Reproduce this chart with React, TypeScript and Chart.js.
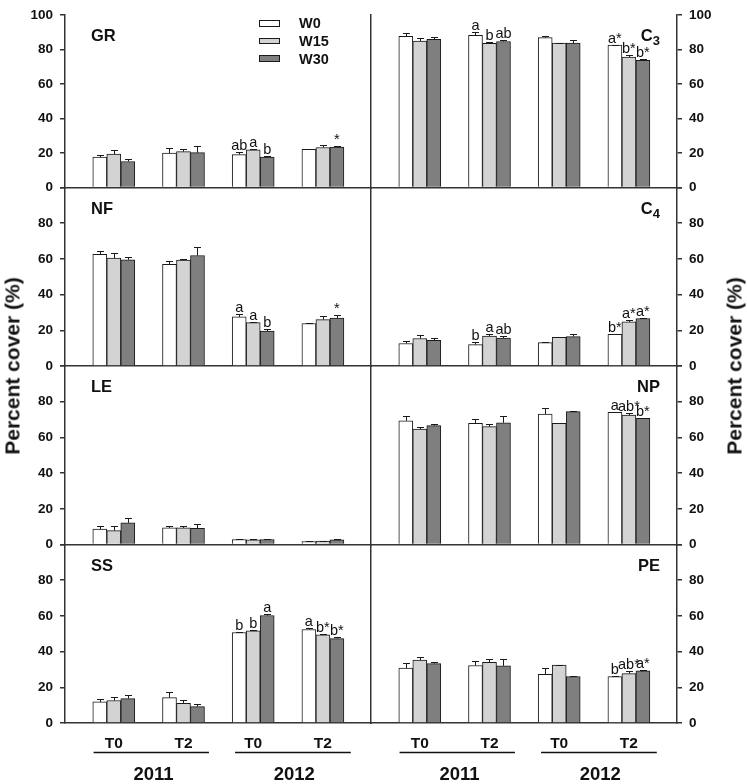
import React, { useEffect, useRef } from 'react';
import { Chart, registerables } from 'chart.js';

Chart.register(...registerables);

// ---------------- data ----------------
const groupLabels = ['T0', 'T2', 'T0', 'T2'];
const yearLabels = ['2011', '2012'];
const seriesNames = ['W0', 'W15', 'W30'];
const seriesColors = ['#ffffff', '#d3d3d3', '#7f7f7f'];

// GR
const grW0 = [17.6, 20.0, 19.1, 22.2];
const grW15 = [19.4, 20.8, 21.9, 23.2];
const grW30 = [15.1, 20.2, 17.6, 23.5];
const grErrW0 = [1.5, 3.2, 1.4, 0.3];
const grErrW15 = [2.5, 1.4, 0.7, 1.5];
const grErrW30 = [1.2, 3.9, 0.7, 0.6];
const grLetW0 = ['', '', 'ab', ''];
const grLetW15 = ['', '', 'a', ''];
const grLetW30 = ['', '', 'b', '*'];

// C3
const c3W0 = [87.7, 88.2, 86.9, 82.6];
const c3W15 = [85.0, 83.6, 83.7, 75.7];
const c3W30 = [86.0, 84.7, 83.7, 73.8];
const c3ErrW0 = [2.0, 1.9, 0.9, 0.3];
const c3ErrW15 = [1.5, 0.7, 0.2, 0.9];
const c3ErrW30 = [1.3, 1.1, 1.7, 0.6];
const c3LetW0 = ['', 'a', '', 'a*'];
const c3LetW15 = ['', 'b', '', 'b*'];
const c3LetW30 = ['', 'ab', '', 'b*'];

// NF
const nfW0 = [62.5, 56.9, 27.5, 23.8];
const nfW15 = [60.4, 59.3, 24.3, 26.0];
const nfW30 = [59.5, 61.9, 19.5, 26.9];
const nfErrW0 = [1.8, 2.0, 1.9, 0.3];
const nfErrW15 = [3.0, 0.9, 0.5, 1.9];
const nfErrW30 = [1.3, 4.5, 1.3, 1.5];
const nfLetW0 = ['', '', 'a', ''];
const nfLetW15 = ['', '', 'a', ''];
const nfLetW30 = ['', '', 'b', '*'];

// C4
const c4W0 = [12.6, 12.0, 13.1, 17.8];
const c4W15 = [15.4, 16.8, 16.1, 24.7];
const c4W30 = [14.4, 15.7, 16.5, 26.6];
const c4ErrW0 = [1.6, 1.5, 0.4, 0.3];
const c4ErrW15 = [2.0, 1.0, 0.2, 0.9];
const c4ErrW30 = [1.5, 1.1, 1.7, 0.5];
const c4LetW0 = ['', 'b', '', 'b*'];
const c4LetW15 = ['', 'a', '', 'a*'];
const c4LetW30 = ['', 'ab', '', 'a*'];

// LE
const leW0 = [8.6, 9.3, 2.8, 1.7];
const leW15 = [7.8, 9.3, 2.6, 1.9];
const leW30 = [12.1, 9.0, 2.8, 2.6];
const leErrW0 = [1.8, 1.1, 0.3, 0.2];
const leErrW15 = [2.6, 1.1, 0.6, 0.3];
const leErrW30 = [2.5, 2.4, 0.4, 0.5];
const leLetW0 = ['', '', '', ''];
const leLetW15 = ['', '', '', ''];
const leLetW30 = ['', '', '', ''];

// NP
const npW0 = [69.3, 67.9, 73.1, 74.0];
const npW15 = [64.7, 66.0, 67.9, 72.5];
const npW30 = [66.6, 68.2, 74.4, 70.7];
const npErrW0 = [2.7, 2.2, 3.2, 0.3];
const npErrW15 = [1.3, 1.5, 0.1, 0.9];
const npErrW30 = [0.7, 3.8, 0.6, 0.3];
const npLetW0 = ['', '', '', 'a'];
const npLetW15 = ['', '', '', 'ab*'];
const npLetW30 = ['', '', '', 'b*'];

// SS
const ssW0 = [11.8, 14.2, 50.7, 52.4];
const ssW15 = [12.6, 11.0, 51.6, 49.4];
const ssW30 = [13.7, 9.2, 60.2, 47.3];
const ssErrW0 = [1.5, 3.2, 0.3, 0.6];
const ssErrW15 = [2.2, 2.1, 0.3, 0.4];
const ssErrW30 = [1.8, 1.5, 0.6, 0.8];
const ssLetW0 = ['', '', 'b', 'a'];
const ssLetW15 = ['', '', 'b', 'b*'];
const ssLetW30 = ['', '', 'a', 'b*'];

// PE
const peW0 = [30.8, 32.2, 27.3, 26.0];
const peW15 = [35.3, 34.0, 32.5, 27.7];
const peW30 = [33.3, 32.0, 26.0, 29.2];
const peErrW0 = [2.7, 2.4, 3.4, 0.3];
const peErrW15 = [1.5, 1.7, 0.2, 1.3];
const peErrW30 = [1.1, 3.9, 0.6, 0.3];
const peLetW0 = ['', '', '', 'b'];
const peLetW15 = ['', '', '', 'ab*'];
const peLetW30 = ['', '', '', 'a*'];

const yTicks = [0, 20, 40, 60, 80, 100];
const groupTicks = [0, 1, 2, 3];

// ---------------- panel table ----------------
type Panel = {
  name: string;
  sub: string;
  row: number;
  col: number;
  values: number[][];
  errors: number[][];
  letters: string[][];
};

const panels: Panel[] = [
  { name: 'GR', sub: '', row: 0, col: 0, values: [grW0, grW15, grW30], errors: [grErrW0, grErrW15, grErrW30], letters: [grLetW0, grLetW15, grLetW30] },
  { name: 'NF', sub: '', row: 1, col: 0, values: [nfW0, nfW15, nfW30], errors: [nfErrW0, nfErrW15, nfErrW30], letters: [nfLetW0, nfLetW15, nfLetW30] },
  { name: 'LE', sub: '', row: 2, col: 0, values: [leW0, leW15, leW30], errors: [leErrW0, leErrW15, leErrW30], letters: [leLetW0, leLetW15, leLetW30] },
  { name: 'SS', sub: '', row: 3, col: 0, values: [ssW0, ssW15, ssW30], errors: [ssErrW0, ssErrW15, ssErrW30], letters: [ssLetW0, ssLetW15, ssLetW30] },
  { name: 'C', sub: '3', row: 0, col: 1, values: [c3W0, c3W15, c3W30], errors: [c3ErrW0, c3ErrW15, c3ErrW30], letters: [c3LetW0, c3LetW15, c3LetW30] },
  { name: 'C', sub: '4', row: 1, col: 1, values: [c4W0, c4W15, c4W30], errors: [c4ErrW0, c4ErrW15, c4ErrW30], letters: [c4LetW0, c4LetW15, c4LetW30] },
  { name: 'NP', sub: '', row: 2, col: 1, values: [npW0, npW15, npW30], errors: [npErrW0, npErrW15, npErrW30], letters: [npLetW0, npLetW15, npLetW30] },
  { name: 'PE', sub: '', row: 3, col: 1, values: [peW0, peW15, peW30], errors: [peErrW0, peErrW15, peErrW30], letters: [peLetW0, peLetW15, peLetW30] },
];

// ---------------- layout ----------------
const W = 747;
const H = 784;
const FONT = "'Liberation Sans', Arial, Helvetica, sans-serif";
const AX = '#333333';
const ROW_TOP = [9, 187.5, 366, 544.5];
const ROW_H = 178.5;
const COL_L = [65, 371];
const COL_R = [371, 677];
const Y_AXIS_W = 60;
const X_AXIS_H = 30;
const X_MIN = -0.7;
const X_MAX = 3.69;
const YEAR_SPANS = [[-0.29, 1.365], [1.74, 3.4]];
const YEAR_CENTERS = [0.57, 2.59];

function makePlugin(p: Panel) {
  return {
    id: 'panelDecor' + p.row + p.col,
    afterDatasetsDraw(chart: any) {
      const ctx = chart.ctx;
      const ys = chart.scales.y;
      ctx.save();
      p.values.forEach((vals, d) => {
        const meta = chart.getDatasetMeta(d);
        meta.data.forEach((el: any, i: number) => {
          const v = vals[i];
          const e = p.errors[d][i];
          const x = Math.round(el.x) + 0.5;
          const yb = ys.getPixelForValue(v);
          const yt = Math.round(ys.getPixelForValue(v + e)) + 0.5;
          ctx.strokeStyle = '#1a1a1a';
          ctx.lineWidth = 1;
          ctx.beginPath();
          ctx.moveTo(x, yb);
          ctx.lineTo(x, yt);
          ctx.moveTo(x - 3.5, yt);
          ctx.lineTo(x + 3.5, yt);
          ctx.stroke();
          const t = p.letters[d][i];
          if (t) {
            ctx.font = `14.5px ${FONT}`;
            ctx.fillStyle = '#111';
            ctx.textAlign = 'center';
            ctx.textBaseline = 'alphabetic';
            ctx.fillText(t, el.x, yt - 2.5);
          }
        });
      });
      ctx.restore();
    },
    afterDraw(chart: any) {
      const ctx = chart.ctx;
      const ca = chart.chartArea;
      ctx.save();
      ctx.fillStyle = '#111';
      ctx.textBaseline = 'alphabetic';
      const base = ca.top + 26;
      if (p.col === 0) {
        ctx.font = `bold 16.5px ${FONT}`;
        ctx.textAlign = 'left';
        ctx.fillText(p.name, ca.left + 26, base);
      } else {
        const right = ca.right - 17;
        ctx.textAlign = 'left';
        ctx.font = `bold 13px ${FONT}`;
        const w2 = p.sub ? ctx.measureText(p.sub).width : 0;
        ctx.font = `bold 16.5px ${FONT}`;
        const w1 = ctx.measureText(p.name).width;
        ctx.fillText(p.name, right - w2 - w1, base);
        if (p.sub) {
          ctx.font = `bold 13px ${FONT}`;
          ctx.fillText(p.sub, right - w2, base + 4);
        }
      }
      if (p.row === 3) {
        const xs = chart.scales.x;
        ctx.strokeStyle = '#111';
        ctx.lineWidth = 1.5;
        const ly = ca.bottom + 29.5;
        YEAR_SPANS.forEach(([a, b]) => {
          ctx.beginPath();
          ctx.moveTo(xs.getPixelForValue(a), ly);
          ctx.lineTo(xs.getPixelForValue(b), ly);
          ctx.stroke();
        });
        ctx.font = `bold 18.5px ${FONT}`;
        ctx.textAlign = 'center';
        YEAR_CENTERS.forEach((c, k) => {
          ctx.fillText(yearLabels[k], xs.getPixelForValue(c), ca.bottom + 57);
        });
      }
      ctx.restore();
    },
  };
}

function buildConfig(p: Panel): any {
  const top = ROW_TOP[p.row];
  const bottom = top + ROW_H;
  const isBottom = p.row === 3;
  const padBottom = H - bottom - (isBottom ? X_AXIS_H : 0);
  const padding =
    p.col === 0
      ? { left: COL_L[0] - Y_AXIS_W, right: W - COL_R[0], top, bottom: padBottom }
      : { left: COL_L[1], right: W - COL_R[1] - Y_AXIS_W, top, bottom: padBottom };

  const datasets = p.values.map((vals, d) => ({
    label: seriesNames[d],
    data: vals.map((v, i) => ({ x: groupTicks[i], y: v })),
    backgroundColor: seriesColors[d],
    borderColor: '#1a1a1a',
    borderWidth: 1,
    barThickness: 14,
  }));

  const scales: any = {
    x: {
      type: 'linear',
      min: X_MIN,
      max: X_MAX,
      offset: false,
      grid: { display: false },
      border: { display: true, color: AX, width: 1.5 },
      afterBuildTicks: (s: any) => {
        s.ticks = groupTicks.map((v) => ({ value: v }));
      },
      ticks: {
        display: isBottom,
        autoSkip: false,
        maxRotation: 0,
        padding: 3,
        color: '#111',
        font: { family: FONT, size: 15.5, weight: 'bold' },
        callback: (v: number) => groupLabels[v] ?? '',
      },
      afterFit: (s: any) => {
        s.height = isBottom ? X_AXIS_H : 0;
      },
    },
    y: {
      type: 'linear',
      position: p.col === 0 ? 'left' : 'right',
      min: 0,
      max: 100,
      afterBuildTicks: (s: any) => {
        s.ticks = yTicks.map((v) => ({ value: v }));
      },
      ticks: {
        padding: 7,
        color: '#111',
        font: { family: FONT, size: 13.5, weight: 'bold' },
        callback: (v: number) => (v === 100 && p.row > 0 ? '' : String(v)),
      },
      grid: { display: true, drawOnChartArea: false, drawTicks: true, tickLength: 5, color: AX, lineWidth: 1.5 },
      border: { display: true, color: AX, width: 1.5 },
      afterFit: (s: any) => {
        s.width = Y_AXIS_W;
      },
    },
  };
  if (p.col === 0) {
    scales.yd = {
      type: 'linear',
      position: 'right',
      min: 0,
      max: 1,
      ticks: { display: false },
      grid: { display: false },
      border: { display: true, color: AX, width: 1.5 },
      afterFit: (s: any) => {
        s.width = 0;
      },
    };
  }

  return {
    type: 'bar',
    data: { datasets },
    options: {
      responsive: false,
      maintainAspectRatio: false,
      animation: false,
      devicePixelRatio: 1,
      events: [],
      layout: { padding },
      plugins: { legend: { display: false }, tooltip: { enabled: false }, title: { display: false } },
      scales,
    },
    plugins: [makePlugin(p)],
  };
}

function PanelChart({ panel }: { panel: Panel }) {
  const ref = useRef<HTMLCanvasElement | null>(null);
  useEffect(() => {
    if (!ref.current) return;
    const chart = new Chart(ref.current, buildConfig(panel));
    return () => chart.destroy();
  }, [panel]);
  return (
    <canvas
      ref={ref}
      width={W}
      height={H}
      style={{ position: 'absolute', left: 0, top: 0, width: W, height: H }}
    />
  );
}

const LEGEND_LEFT = 259;
const LEGEND_TOP = 20;
const LEGEND_STEP = 17.7;

export default function App() {
  return (
    <div
      style={{
        position: 'absolute',
        left: 0,
        top: 0,
        width: W,
        height: H,
        background: '#ffffff',
        overflow: 'hidden',
        fontFamily: FONT,
      }}
    >
      {panels.map((p) => (
        <PanelChart key={p.row + '-' + p.col} panel={p} />
      ))}
      {seriesNames.map((s, i) => (
        <React.Fragment key={s}>
          <div
            style={{
              position: 'absolute',
              left: LEGEND_LEFT,
              top: LEGEND_TOP + i * LEGEND_STEP,
              width: 21,
              height: 6.5,
              boxSizing: 'border-box',
              border: '1px solid #1a1a1a',
              background: seriesColors[i],
            }}
          />
          <div
            style={{
              position: 'absolute',
              left: 299,
              top: LEGEND_TOP + i * LEGEND_STEP + 3.25 - 8,
              height: 16,
              lineHeight: '16px',
              fontSize: 14.5,
              fontWeight: 'bold',
              color: '#111',
              whiteSpace: 'nowrap',
            }}
          >
            {s}
          </div>
        </React.Fragment>
      ))}
      {[12, 734].map((cx) => (
        <div
          key={cx}
          style={{
            position: 'absolute',
            left: cx,
            top: 366,
            transform: 'translate(-50%, -50%) rotate(-90deg)',
            whiteSpace: 'nowrap',
            fontSize: 21,
            fontWeight: 'bold',
            lineHeight: 1,
            color: '#111',
          }}
        >
          Percent cover (%)
        </div>
      ))}
    </div>
  );
}
